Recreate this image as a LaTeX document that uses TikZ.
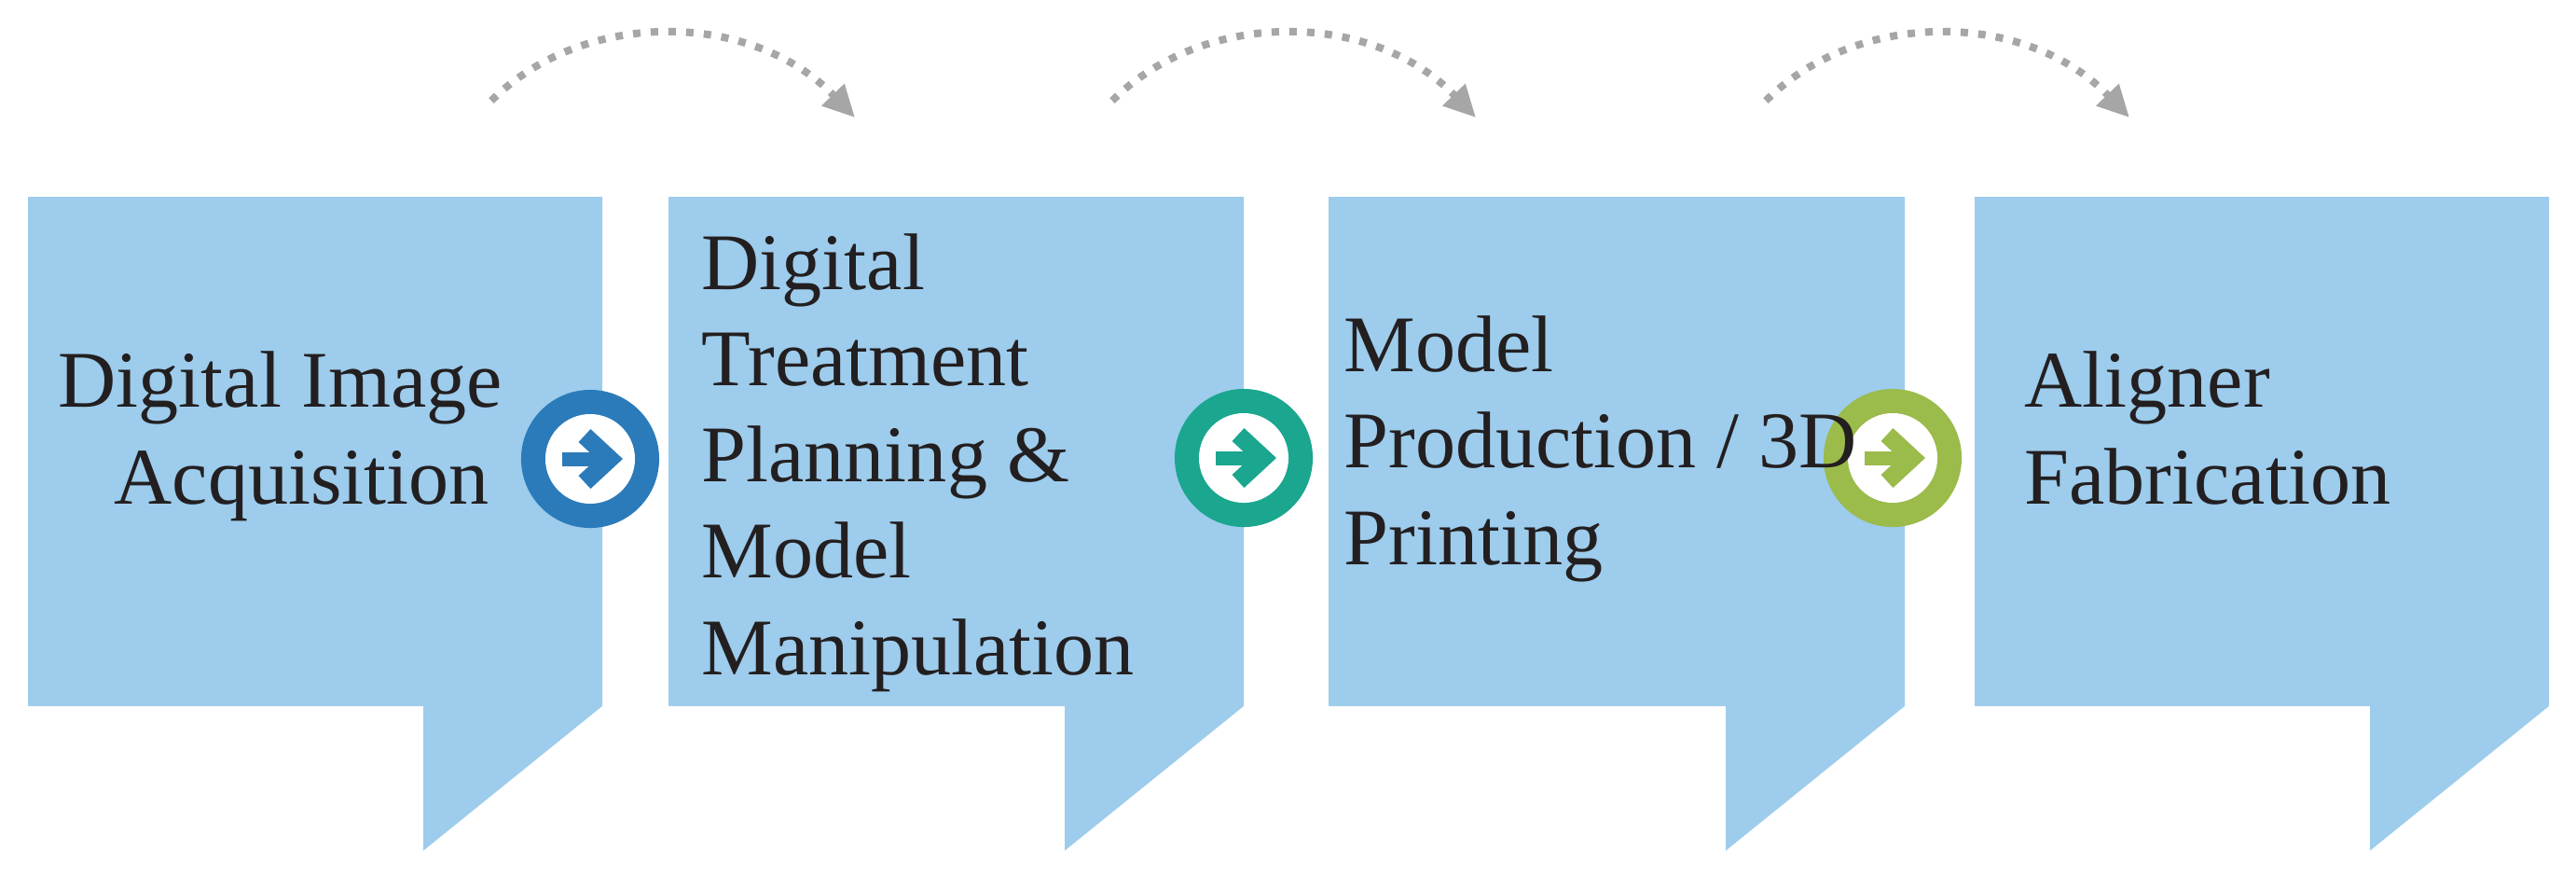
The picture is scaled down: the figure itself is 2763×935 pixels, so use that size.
\documentclass[tikz,border=0pt]{standalone}
\usepackage{fontspec}
\setmainfont{Liberation Serif}
\usetikzlibrary{arrows.meta}
\definecolor{boxblue}{HTML}{9DCCEC}
\definecolor{ringblue}{HTML}{2B7BBA}
\definecolor{ringteal}{HTML}{1AA68F}
\definecolor{ringgreen}{HTML}{9BBB4B}
\definecolor{dotgray}{HTML}{A6A6A6}
\definecolor{ink}{HTML}{231F20}
\begin{document}
\begin{tikzpicture}[x=0.01cm,y=-0.01cm,
  stepshape/.style={fill=boxblue},
  steptext/.style={font=\fontsize{24.5pt}{29.3pt}\selectfont, text=ink, align=left, inner sep=0pt, anchor=base west},
  ring/.style={circle, fill=#1, minimum size=1.48cm, inner sep=0pt},
  hole/.style={circle, fill=white, minimum size=0.96cm, inner sep=0pt},
  shaft/.style={draw=#1, line width=0.15cm, line cap=butt},
  chevron/.style={draw=#1, line width=0.19cm, line cap=butt, line join=miter},
  flow/.style={draw=dotgray, line width=0.08cm, dash pattern=on 0.08cm off 0.11cm, -{Triangle[length=0.34cm,width=0.32cm]}},
]
\fill[white] (0,0) rectangle (2763,935);
\useasboundingbox (0,0) rectangle (2763,935);

% boxes
\foreach \L/\R in {30/646, 717/1334, 1425/2043, 2118/2734}{
  \fill[stepshape] (\L,211) -- (\R,211) -- (\R,757) -- (\R-192,912) -- (\R-192,757) -- (\L,757) -- cycle;
}

% dotted arrows
\coordinate (a1s) at (527,108);  \coordinate (a1e) at (917,126);
\coordinate (a2s) at (1193,108); \coordinate (a2e) at (1583,126);
\coordinate (a3s) at (1894,108); \coordinate (a3e) at (2284,126);
\draw[flow] (a1s) .. controls +(98,-98) and +(-112,-116) .. (a1e);
\draw[flow] (a2s) .. controls +(98,-98) and +(-112,-116) .. (a2e);
\draw[flow] (a3s) .. controls +(98,-98) and +(-112,-116) .. (a3e);

% ring icons
\node[ring=ringblue] (c1) at (633,492) {};
\node[hole] (h1) at (c1) {};
\draw[shaft=ringblue] (c1.center) ++(-30,0) -- ++(46,0);
\draw[chevron=ringblue] (c1.center) ++(-6,-25) -- ++(27,25) -- ++(-27,25);

\node[ring=ringteal] (c2) at (1334,491) {};
\node[hole] (h2) at (c2) {};
\draw[shaft=ringteal] (c2.center) ++(-30,0) -- ++(46,0);
\draw[chevron=ringteal] (c2.center) ++(-6,-25) -- ++(27,25) -- ++(-27,25);

\node[ring=ringgreen] (c3) at (2030,491) {};
\node[hole] (h3) at (c3) {};
\draw[shaft=ringgreen] (c3.center) ++(-30,0) -- ++(46,0);
\draw[chevron=ringgreen] (c3.center) ++(-6,-25) -- ++(27,25) -- ++(-27,25);

% texts (anchor = baseline of the last line)
\node[steptext] (t1) at (62,540) {Digital Image\\\hspace*{0.6cm}Acquisition};
\node[steptext] (t2) at (752,723) {Digital\\Treatment\\Planning \&\\Model\\Manipulation};
\node[steptext] (t3) at (1441,605) {Model\\Production / 3D\\Printing};
\node[steptext] (t4) at (2171,540) {Aligner\\Fabrication};
\end{tikzpicture}
\end{document}
